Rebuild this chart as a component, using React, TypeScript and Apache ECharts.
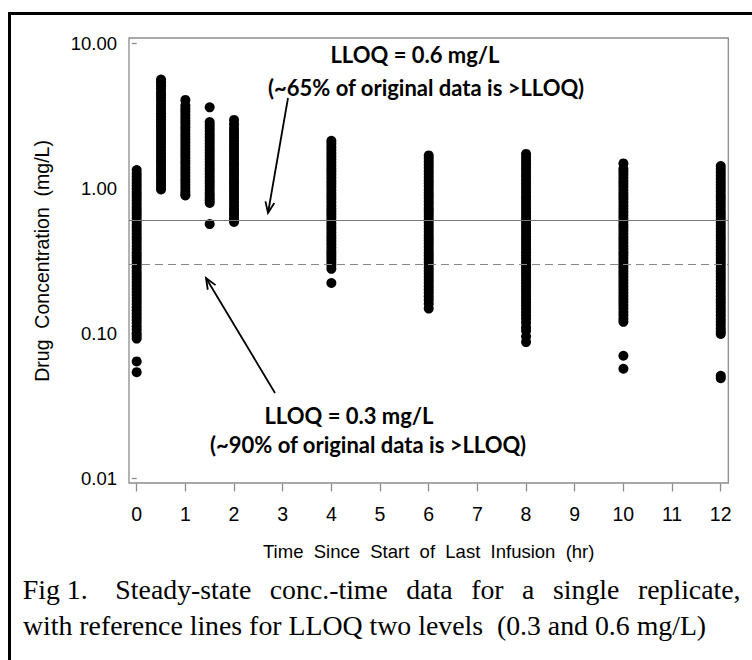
import React, { useEffect, useRef } from "react";
import * as echarts from "echarts";

// ---- data ----
const TIMES = [0, 0.5, 1, 1.5, 2, 4, 6, 8, 10, 12];

const CONC_T0 = [1.33, 1.26, 1.2, 1.14, 1.09, 1.04, 0.99, 0.94, 0.9, 0.86, 0.82, 0.78, 0.74, 0.71, 0.68, 0.65, 0.62, 0.59, 0.56, 0.535, 0.51, 0.485, 0.46, 0.44, 0.42, 0.4, 0.38, 0.36, 0.345, 0.33, 0.315, 0.3, 0.285, 0.27, 0.258, 0.246, 0.235, 0.224, 0.213, 0.203, 0.193, 0.184, 0.175, 0.167, 0.159, 0.151, 0.144, 0.137, 0.13, 0.124, 0.118, 0.112, 0.106, 0.1, 0.096, 0.092, 0.064, 0.054];
const CONC_T0_5 = [5.6, 5.35, 5.1, 4.85, 4.6, 4.4, 4.2, 4.0, 3.8, 3.62, 3.45, 3.28, 3.12, 2.97, 2.83, 2.7, 2.57, 2.45, 2.33, 2.22, 2.11, 2.01, 1.91, 1.82, 1.73, 1.65, 1.57, 1.5, 1.43, 1.36, 1.3, 1.24, 1.18, 1.12, 1.07, 1.02, 0.98];
const CONC_T1 = [4.05, 3.7, 3.52, 3.35, 3.19, 3.04, 2.9, 2.76, 2.63, 2.5, 2.38, 2.27, 2.16, 2.06, 1.96, 1.87, 1.78, 1.7, 1.62, 1.54, 1.47, 1.4, 1.33, 1.27, 1.21, 1.15, 1.1, 1.05, 1.0, 0.95, 0.91, 0.89];
const CONC_T1_5 = [3.6, 2.85, 2.72, 2.59, 2.47, 2.35, 2.24, 2.13, 2.03, 1.93, 1.84, 1.75, 1.67, 1.59, 1.51, 1.44, 1.37, 1.31, 1.25, 1.19, 1.13, 1.08, 1.03, 0.98, 0.93, 0.89, 0.85, 0.82, 0.79, 0.565];
const CONC_T2 = [2.95, 2.75, 2.58, 2.46, 2.34, 2.23, 2.12, 2.02, 1.92, 1.83, 1.74, 1.66, 1.58, 1.5, 1.43, 1.36, 1.3, 1.24, 1.18, 1.12, 1.07, 1.02, 0.97, 0.92, 0.88, 0.84, 0.8, 0.76, 0.72, 0.69, 0.66, 0.63, 0.605, 0.585];
const CONC_T4 = [2.12, 2.02, 1.92, 1.83, 1.74, 1.66, 1.58, 1.5, 1.43, 1.36, 1.3, 1.24, 1.18, 1.12, 1.07, 1.02, 0.97, 0.92, 0.88, 0.84, 0.8, 0.76, 0.72, 0.69, 0.66, 0.63, 0.6, 0.57, 0.545, 0.52, 0.495, 0.47, 0.45, 0.43, 0.41, 0.39, 0.37, 0.355, 0.34, 0.325, 0.31, 0.295, 0.278, 0.222];
const CONC_T6 = [1.68, 1.6, 1.52, 1.45, 1.38, 1.31, 1.25, 1.19, 1.13, 1.08, 1.03, 0.98, 0.93, 0.89, 0.85, 0.81, 0.77, 0.73, 0.7, 0.67, 0.64, 0.61, 0.58, 0.55, 0.525, 0.5, 0.475, 0.455, 0.435, 0.415, 0.395, 0.375, 0.358, 0.342, 0.326, 0.311, 0.296, 0.282, 0.269, 0.256, 0.244, 0.233, 0.222, 0.211, 0.2, 0.19, 0.18, 0.17, 0.16, 0.148];
const CONC_T8 = [1.72, 1.63, 1.55, 1.47, 1.4, 1.33, 1.26, 1.2, 1.14, 1.08, 1.03, 0.98, 0.93, 0.88, 0.84, 0.8, 0.76, 0.72, 0.685, 0.65, 0.62, 0.59, 0.56, 0.535, 0.51, 0.485, 0.46, 0.44, 0.42, 0.4, 0.38, 0.362, 0.345, 0.328, 0.312, 0.297, 0.283, 0.269, 0.256, 0.244, 0.232, 0.221, 0.21, 0.2, 0.19, 0.181, 0.172, 0.164, 0.156, 0.148, 0.14, 0.133, 0.126, 0.118, 0.11, 0.104, 0.095, 0.087];
const CONC_T10 = [1.48, 1.36, 1.3, 1.24, 1.18, 1.12, 1.07, 1.02, 0.97, 0.92, 0.88, 0.84, 0.8, 0.76, 0.72, 0.685, 0.65, 0.62, 0.59, 0.56, 0.535, 0.51, 0.485, 0.46, 0.44, 0.42, 0.4, 0.38, 0.362, 0.345, 0.328, 0.312, 0.297, 0.283, 0.269, 0.256, 0.244, 0.232, 0.221, 0.21, 0.2, 0.19, 0.181, 0.172, 0.164, 0.156, 0.148, 0.14, 0.133, 0.126, 0.12, 0.07, 0.057];
const CONC_T12 = [1.42, 1.35, 1.28, 1.22, 1.16, 1.1, 1.05, 1.0, 0.95, 0.9, 0.86, 0.82, 0.78, 0.74, 0.7, 0.67, 0.64, 0.61, 0.58, 0.55, 0.525, 0.5, 0.475, 0.455, 0.435, 0.415, 0.395, 0.375, 0.358, 0.342, 0.326, 0.311, 0.296, 0.282, 0.269, 0.256, 0.244, 0.233, 0.222, 0.211, 0.2, 0.19, 0.18, 0.171, 0.163, 0.155, 0.147, 0.14, 0.133, 0.126, 0.12, 0.114, 0.108, 0.103, 0.099, 0.051, 0.049];

const COLUMNS = [CONC_T0, CONC_T0_5, CONC_T1, CONC_T1_5, CONC_T2, CONC_T4, CONC_T6, CONC_T8, CONC_T10, CONC_T12];

const LLOQ_HIGH = 0.6;
const LLOQ_LOW = 0.3;

const X_AXIS_TITLE = "Time  Since  Start  of  Last  Infusion  (hr)";
const Y_AXIS_TITLE = "Drug  Concentration  (mg/L)";
const NOTE_HIGH = ["LLOQ = 0.6 mg/L", "(~65% of original data is >LLOQ)"];
const NOTE_LOW = ["LLOQ = 0.3 mg/L", "(~90% of original data is >LLOQ)"];

const NB = "\u00A0";
const GAP = " " + NB + "\u2006";
const CAPTION_1 =
  "Fig 1." + " " + NB + NB + NB +
  ["Steady-state", "conc.-time", "data", "for", "a", "single", "replicate,"].join(GAP);
const CAPTION_2 = "with reference lines for LLOQ two levels " + NB + "(0.3 and 0.6 mg/L)";

const SANS = "'Liberation Sans', Arial, Helvetica, sans-serif";
const NOTE_FONT = "Lato, 'Open Sans', sans-serif";
const SERIF = "'Liberation Serif', 'Times New Roman', serif";

function arrow(x1: number, y1: number, x2: number, y2: number) {
  const dx = x2 - x1;
  const dy = y2 - y1;
  const len = Math.hypot(dx, dy);
  const ux = dx / len;
  const uy = dy / len;
  const hl = 11;
  const hw = 4.5;
  const bx = x2 - ux * hl;
  const by = y2 - uy * hl;
  return [
    { type: "line", shape: { x1, y1, x2, y2 }, style: { stroke: "#000", lineWidth: 1.8 } },
    {
      type: "polyline",
      shape: { points: [[bx - uy * hw, by + ux * hw], [x2, y2], [bx + uy * hw, by - ux * hw]] },
      style: { stroke: "#000", lineWidth: 1.8, fill: null },
    },
  ];
}

function txt(text: string, x: number, y: number, size: number, family: string, weight: string, align: string) {
  return {
    type: "text",
    x,
    y,
    style: {
      text,
      fill: "#000",
      fontSize: size,
      fontFamily: family,
      fontWeight: weight,
      align,
      textAlign: align,
      verticalAlign: "middle",
      textVerticalAlign: "middle",
    },
  };
}

export default function App() {
  const ref = useRef<HTMLDivElement>(null);

  useEffect(() => {
    if (!ref.current) return;
    const chart = echarts.init(ref.current, undefined, { renderer: "svg" });
    const points = TIMES.flatMap((t, i) => COLUMNS[i].map((v) => [t, v]));

    const option: any = {
      animation: false,
      backgroundColor: "#fff",
      grid: [
        {
          left: 129,
          top: 38,
          width: 599.3,
          height: 445,
          show: true,
          borderColor: "#8c8c8c",
          borderWidth: 1.3,
          backgroundColor: "rgba(0,0,0,0)",
        },
        { left: 136.7, top: 43.3, width: 584, height: 435.2, show: false },
      ],
      xAxis: [
        { gridIndex: 0, type: "value", min: -0.158, max: 12.155, show: false },
        {
          gridIndex: 1,
          type: "value",
          min: 0,
          max: 12,
          interval: 1,
          offset: 5,
          axisLine: { show: false },
          axisTick: { show: true, length: 8, lineStyle: { color: "#8c8c8c", width: 1.3 } },
          splitLine: { show: false },
          axisLabel: { margin: 20, fontSize: 19.5, color: "#000", fontFamily: SANS },
          name: X_AXIS_TITLE,
          nameLocation: "middle",
          nameGap: 58,
          nameTextStyle: { fontSize: 18.5, color: "#000", fontFamily: SANS },
        },
      ],
      yAxis: [
        { gridIndex: 0, type: "log", logBase: 10, min: 0.00931, max: 10.81, show: false },
        {
          gridIndex: 1,
          type: "log",
          logBase: 10,
          min: 0.01,
          max: 10,
          offset: 7.7,
          axisLine: { show: false },
          axisTick: { show: true, length: 5, lineStyle: { color: "#8c8c8c", width: 1.3 } },
          splitLine: { show: false },
          axisLabel: {
            margin: 12,
            fontSize: 18.5,
            color: "#000",
            fontFamily: SANS,
            showMinLabel: true,
            showMaxLabel: true,
            formatter: (v: number) => Number(v).toFixed(2),
          },
          name: Y_AXIS_TITLE,
          nameLocation: "middle",
          nameGap: 77,
          nameTextStyle: { fontSize: 19.5, color: "#000", fontFamily: SANS },
        },
      ],
      series: [
        {
          type: "scatter",
          xAxisIndex: 0,
          yAxisIndex: 0,
          data: points,
          symbol: "circle",
          symbolSize: 10,
          itemStyle: { color: "#000", opacity: 1 },
          clip: false,
          silent: true,
          markLine: {
            silent: true,
            symbol: ["none", "none"],
            label: { show: false },
            data: [
              { yAxis: LLOQ_HIGH, lineStyle: { type: "solid", color: "#777", width: 1.2 } },
              { yAxis: LLOQ_LOW, lineStyle: { type: [8, 5], color: "#888", width: 1.2 } },
            ],
          },
        },
      ],
      graphic: [
        {
          type: "rect",
          shape: { x: 9.5, y: 13.5, width: 800, height: 800 },
          style: { stroke: "#000", lineWidth: 3, fill: null },
          silent: true,
        },
        txt(NOTE_HIGH[0], 415, 54, 22, NOTE_FONT, "bold", "center"),
        txt(NOTE_HIGH[1], 426, 87, 22, NOTE_FONT, "bold", "center"),
        txt(NOTE_LOW[0], 349, 415, 22, NOTE_FONT, "bold", "center"),
        txt(NOTE_LOW[1], 368, 444, 22, NOTE_FONT, "bold", "center"),
        ...arrow(288, 98, 268, 213),
        ...arrow(275, 393, 206, 278),
        txt(CAPTION_1, 22.7, 589, 27.8, SERIF, "normal", "left"),
        txt(CAPTION_2, 23, 625, 27.8, SERIF, "normal", "left"),
      ],
    };

    chart.setOption(option);
    return () => chart.dispose();
  }, []);

  return (
    <div
      ref={ref}
      style={{ position: "absolute", left: 0, top: 0, width: 752, height: 660 }}
    />
  );
}
